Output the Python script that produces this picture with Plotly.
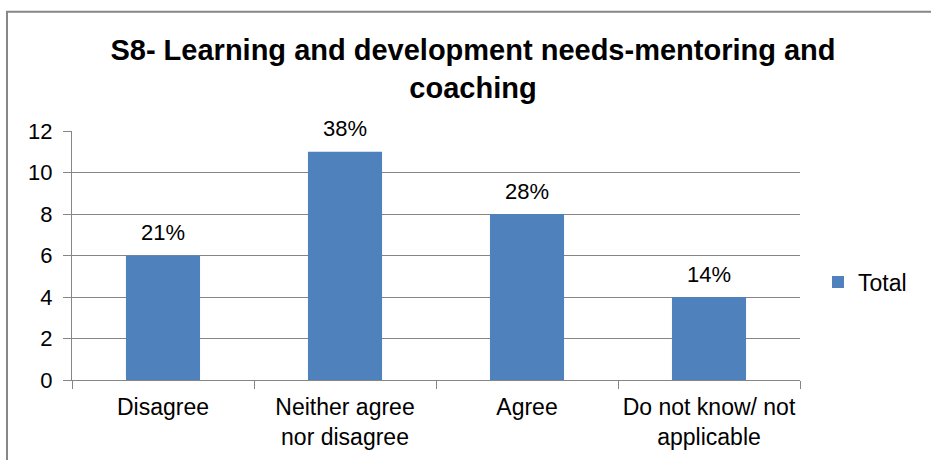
import plotly.graph_objects as go

# Survey responses for S8 (counts per answer)
categories = ["Disagree", "Neither agree<br>nor disagree", "Agree", "Do not know/ not<br>applicable"]
counts = [6, 11, 8, 4]
series_name = "Total"
y_ticks = [0, 2, 4, 6, 8, 10, 12]

total = sum(counts)
pct_labels = [f"{round(c / total * 100)}%" for c in counts]

BAR_COLOR = "#4F81BD"
GRID = "#868686"
FONT = "Liberation Sans, Arial, sans-serif"

fig = go.Figure()
fig.add_trace(go.Bar(
    x=categories,
    y=counts,
    name=series_name,
    marker=dict(color=BAR_COLOR, line=dict(width=0)),
    showlegend=True,
))

# percentage labels above each bar
for cat, c, lab in zip(categories, counts, pct_labels):
    fig.add_annotation(
        x=cat, y=c, text=lab, showarrow=False,
        yshift=23, yanchor="middle",
        font=dict(family=FONT, size=22, color="#000000"),
    )

# outer chart frame
fig.add_shape(
    type="rect", xref="paper", yref="paper",
    x0=-0.0893, x1=1.4, y0=-0.6, y1=1.479,
    line=dict(color="#878787", width=2), fillcolor="rgba(0,0,0,0)",
    layer="below",
)

fig.update_layout(
    width=931, height=460,
    margin=dict(l=72, r=131, t=131, b=80, autoexpand=False),
    paper_bgcolor="white", plot_bgcolor="white",
    bargap=0.593,
    title=dict(
        text="<b>S8- Learning and development needs-mentoring and<br>coaching</b>",
        x=473 / 931, xanchor="center", xref="container",
        y=1 - 60 / 460, yanchor="middle", yref="container",
        font=dict(family=FONT, size=29, color="#000000"),
    ),
    font=dict(family=FONT, color="#000000"),
    legend=dict(
        x=1.0247, xanchor="left", y=0.393, yanchor="middle",
        font=dict(family=FONT, size=23, color="#000000"),
        bgcolor="rgba(0,0,0,0)",
    ),
    xaxis=dict(
        type="category", automargin=False, tickangle=0,
        showline=True, linecolor=GRID, linewidth=1,
        ticks="outside", tickson="boundaries", ticklen=8, tickcolor=GRID,
        tickfont=dict(family=FONT, size=23, color="#000000"),
        showgrid=False, zeroline=False, ticklabelstandoff=6,
    ),
    yaxis=dict(
        range=[0, 12], tickvals=y_ticks, automargin=False,
        showline=True, linecolor=GRID, linewidth=1,
        ticks="outside", ticklen=8, tickcolor=GRID,
        tickfont=dict(family=FONT, size=22, color="#000000"),
        showgrid=True, gridcolor=GRID, gridwidth=1,
        zeroline=False, ticklabelstandoff=6,
    ),
)

fig.write_html("out.html")
